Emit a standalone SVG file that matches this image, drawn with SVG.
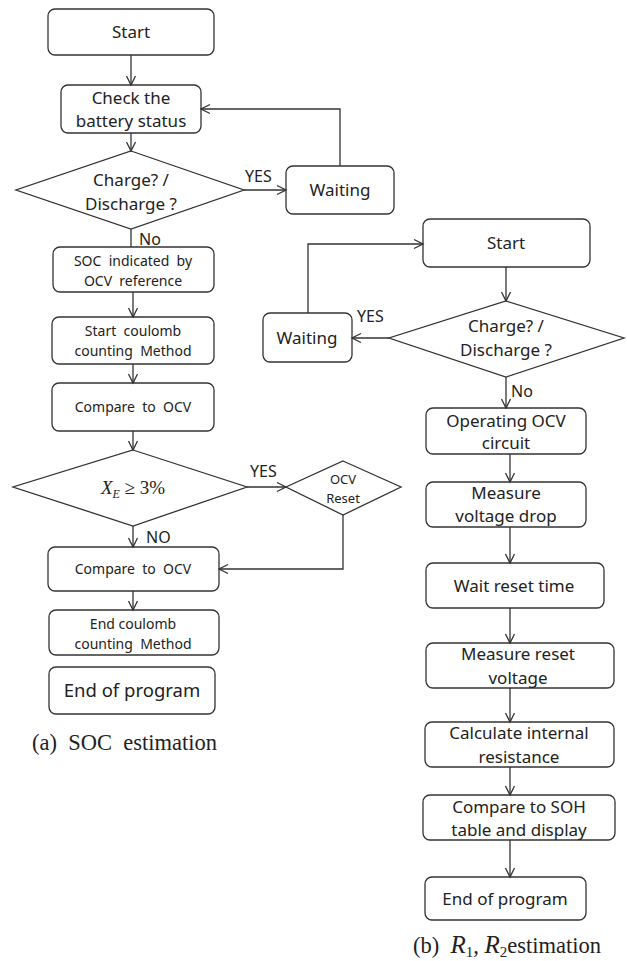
<svg xmlns="http://www.w3.org/2000/svg" width="627" height="961" viewBox="0 0 627 961">
<style>
.box{fill:#fff;stroke:#333;stroke-width:1.3}
.dia{fill:#fff;stroke:#333;stroke-width:1.3}
.ln{fill:none;stroke:#333;stroke-width:1.3}
.arr{fill:none;stroke:#333;stroke-width:1.3;marker-end:url(#ah)}
text{font-family:"Noto Sans","Open Sans",sans-serif;fill:#222;text-anchor:middle;white-space:pre}
.t17{font-size:17px}
.t14{font-size:14px}
.t12{font-size:13px}
.t18{font-size:18.5px}
.lbl{font-size:16px;text-anchor:start}
.cap{font-family:"Liberation Serif","Times New Roman",serif;font-size:22.5px;text-anchor:start}
</style>
<defs>
<marker id="ah" markerWidth="12" markerHeight="12" refX="10" refY="6" orient="auto" markerUnits="userSpaceOnUse">
<path d="M1,1.5 L10,6 L1,10.5" fill="none" stroke="#333" stroke-width="1.3"/>
</marker>
</defs>
<rect width="627" height="961" fill="#fff"/>

<!-- Left flowchart -->
<g id="a-start"><rect class="box" x="48" y="9" width="166" height="46" rx="7"/><text class="t17" x="131" y="38">Start</text></g>
<g id="a-check"><rect class="box" x="61" y="85" width="140" height="48" rx="7"/><text class="t17" x="131" y="104">Check the</text><text class="t17" x="131" y="127">battery status</text></g>
<g id="a-dec1"><polygon class="dia" points="131,151 244,190 131,229 16,190"/><text class="t17" x="131" y="186">Charge? /</text><text class="t17" x="131" y="210">Discharge ?</text></g>
<g id="a-wait"><rect class="box" x="286" y="166" width="108" height="48" rx="7"/><text class="t17" x="340" y="196">Waiting</text></g>
<g id="a-soc"><rect class="box" x="53" y="247" width="161" height="45" rx="7"/><text class="t14" x="133" y="266">SOC  indicated  by</text><text class="t14" x="133" y="286">OCV  reference</text></g>
<g id="a-startcc"><rect class="box" x="52" y="317" width="162" height="47" rx="7"/><text class="t14" x="133" y="336">Start  coulomb</text><text class="t14" x="133" y="356">counting  Method</text></g>
<g id="a-cmp1"><rect class="box" x="52" y="383" width="162" height="48" rx="7"/><text class="t14" x="133" y="412">Compare  to  OCV</text></g>
<g id="a-dec2"><polygon class="dia" points="133,450 247,487 133,526 13,487"/><text x="133" y="494" style="font-family:'Liberation Serif','Times New Roman',serif;font-size:19px"><tspan font-style="italic">X</tspan><tspan font-style="italic" font-size="12" dy="4">E</tspan><tspan dy="-4"> ≥ 3%</tspan></text></g>
<g id="a-reset"><polygon class="dia" points="343,461 401,487 343,515 286,487"/><text class="t12" x="343" y="484">OCV</text><text class="t12" x="343" y="503">Reset</text></g>
<g id="a-cmp2"><rect class="box" x="48" y="547" width="171" height="44" rx="7"/><text class="t14" x="133" y="574">Compare  to  OCV</text></g>
<g id="a-endcc"><rect class="box" x="49" y="610" width="170" height="45" rx="7"/><text class="t14" x="133" y="629">End coulomb</text><text class="t14" x="133" y="649">counting  Method</text></g>
<g id="a-end"><rect class="box" x="49" y="667" width="166" height="47" rx="7"/><text class="t18" x="132" y="697">End of program</text></g>
<text class="cap" x="32" y="750">(a)  SOC  estimation</text>

<!-- Right flowchart -->
<g id="b-start"><rect class="box" x="423" y="219" width="167" height="48" rx="7"/><text class="t17" x="506" y="249">Start</text></g>
<g id="b-dec"><polygon class="dia" points="506,301 624,338 506,377 389,338"/><text class="t17" x="506" y="332">Charge? /</text><text class="t17" x="506" y="356">Discharge ?</text></g>
<g id="b-wait"><rect class="box" x="263" y="313" width="89" height="49" rx="7"/><text class="t17" x="307" y="344">Waiting</text></g>
<g id="b-ocv"><rect class="box" x="426" y="408" width="160" height="46" rx="7"/><text class="t17" x="506" y="427">Operating OCV</text><text class="t17" x="506" y="449">circuit</text></g>
<g id="b-mvd"><rect class="box" x="426" y="482" width="160" height="45" rx="7"/><text class="t17" x="506" y="499">Measure</text><text class="t17" x="506" y="522">voltage drop</text></g>
<g id="b-wait2"><rect class="box" x="426" y="563" width="178" height="45" rx="7"/><text class="t17" x="514" y="592">Wait reset time</text></g>
<g id="b-mrv"><rect class="box" x="426" y="643" width="188" height="45" rx="7"/><text class="t17" x="518" y="660">Measure reset</text><text class="t17" x="518" y="684">voltage</text></g>
<g id="b-calc"><rect class="box" x="425" y="722" width="189" height="45" rx="7"/><text class="t17" x="519" y="739">Calculate internal</text><text class="t17" x="519" y="763">resistance</text></g>
<g id="b-soh"><rect class="box" x="423" y="795" width="192" height="45" rx="7"/><text class="t17" x="519" y="813">Compare to SOH</text><text class="t17" x="519" y="836">table and display</text></g>
<g id="b-end"><rect class="box" x="425" y="877" width="161" height="43" rx="7"/><text class="t17" x="505" y="905">End of program</text></g>
<text class="cap" x="413" y="953" font-size="23.5">(b)  <tspan font-style="italic" font-size="25">R</tspan><tspan font-size="15" dy="4">1</tspan><tspan dy="-4">, </tspan><tspan font-style="italic" font-size="25">R</tspan><tspan font-size="15" dy="4">2</tspan><tspan dy="-4">estimation</tspan></text>

<!-- Connectors -->
<g id="connectors">
<line class="arr" x1="131" y1="55" x2="131" y2="85"/>
<line class="arr" x1="131" y1="133" x2="131" y2="151"/>
<line class="arr" x1="244" y1="190" x2="286" y2="190"/>
<polyline class="arr" points="340,166 340,109 201,109"/>
<line class="ln" x1="131" y1="229" x2="131" y2="247"/>
<line class="arr" x1="133" y1="292" x2="133" y2="317"/>
<line class="arr" x1="133" y1="364" x2="133" y2="383"/>
<line class="arr" x1="133" y1="431" x2="133" y2="450"/>
<line class="arr" x1="247" y1="487" x2="286" y2="487"/>
<polyline class="arr" points="343,515 343,569 219,569"/>
<line class="arr" x1="133" y1="526" x2="133" y2="547"/>
<line class="arr" x1="133" y1="591" x2="133" y2="610"/>
<text class="lbl" x="245" y="182">YES</text>
<text class="lbl" x="139" y="245">No</text>
<text class="lbl" x="250" y="477">YES</text>
<text class="lbl" x="146" y="543">NO</text>

<line class="arr" x1="506" y1="267" x2="506" y2="301"/>
<line class="arr" x1="389" y1="338" x2="352" y2="338"/>
<polyline class="arr" points="308,313 308,244 423,244"/>
<line class="arr" x1="506" y1="377" x2="506" y2="408"/>
<line class="arr" x1="510" y1="454" x2="510" y2="482"/>
<line class="arr" x1="510" y1="527" x2="510" y2="563"/>
<line class="arr" x1="510" y1="608" x2="510" y2="643"/>
<line class="arr" x1="510" y1="688" x2="510" y2="722"/>
<line class="arr" x1="510" y1="767" x2="510" y2="795"/>
<line class="arr" x1="510" y1="840" x2="510" y2="877"/>
<text class="lbl" x="357" y="322">YES</text>
<text class="lbl" x="511" y="397">No</text>
</g>
</svg>
